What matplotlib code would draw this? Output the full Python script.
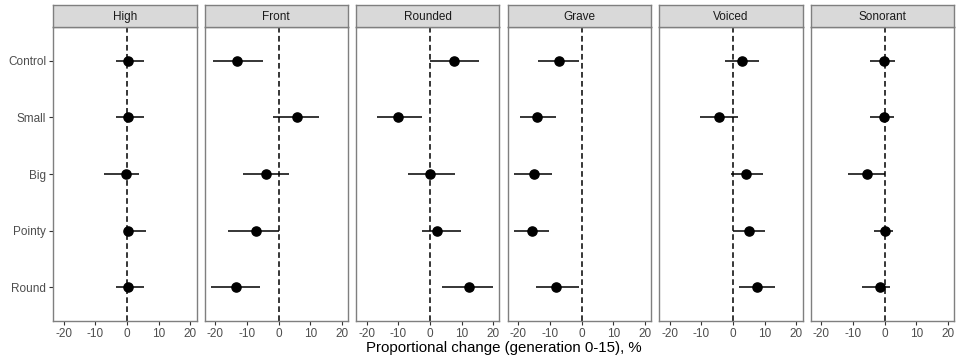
import matplotlib
matplotlib.use("Agg")
import matplotlib.pyplot as plt
import numpy as np

plt.rcParams['font.family'] = ['Liberation Sans', 'DejaVu Sans']

# conditions (rows) and features (facets)
conditions = ["Control", "Small", "Big", "Pointy", "Round"]
features = ["High", "Front", "Rounded", "Grave", "Voiced", "Sonorant"]

# estimate, lower and upper bound per feature, in the order of conditions
high_est = [0.3, 0.3, -0.3, 0.3, 0.3]
high_lo = [-3.6, -3.6, -7.3, -0.8, -3.6]
high_hi = [5.4, 5.3, 3.7, 5.9, 5.4]

front_est = [-13.1, 5.7, -3.9, -7.1, -13.6]
front_lo = [-20.7, -1.9, -11.4, -16.0, -21.5]
front_hi = [-5.0, 12.6, 3.2, 0.0, -6.0]

rounded_est = [7.5, -10.2, 0.0, 2.2, 12.3]
rounded_lo = [-0.1, -16.9, -7.0, -2.6, 3.7]
rounded_hi = [15.3, -2.7, 7.8, 9.6, 19.9]

grave_est = [-7.1, -14.0, -15.1, -15.7, -8.0]
grave_lo = [-13.8, -19.3, -21.5, -21.4, -14.3]
grave_hi = [-0.7, -8.2, -9.2, -10.4, -0.8]

voiced_est = [2.8, -4.4, 4.1, 4.9, 7.4]
voiced_lo = [-2.7, -10.3, -0.7, 0.0, 1.9]
voiced_hi = [8.1, 1.6, 9.3, 10.0, 13.1]

sonorant_est = [-0.2, -0.2, -5.6, 0.0, -1.4]
sonorant_lo = [-4.6, -4.6, -11.7, -3.4, -7.2]
sonorant_hi = [3.4, 3.0, 0.1, 2.6, 1.7]

est = [high_est, front_est, rounded_est, grave_est, voiced_est, sonorant_est]
lo = [high_lo, front_lo, rounded_lo, grave_lo, voiced_lo, sonorant_lo]
hi = [high_hi, front_hi, rounded_hi, grave_hi, voiced_hi, sonorant_hi]

xticks = [-20, -10, 0, 10, 20]

W, H = 960, 358
fig = plt.figure(figsize=(W / 100, H / 100), dpi=100)

left0, gap, pw = 53, 8, 143.5
ptop, pbot, strip_h = 27, 321, 21.7
border = '#7F7F7F'
txt = '#4D4D4D'

y = np.arange(len(conditions))

for i, feat in enumerate(features):
    x0 = left0 + i * (pw + gap)
    ax = fig.add_axes([x0 / W, (H - pbot) / H, pw / W, (pbot - ptop) / H])
    # strip on top
    sax = fig.add_axes([x0 / W, (H - ptop) / H, pw / W, strip_h / H])
    sax.set_facecolor('#D9D9D9')
    sax.set_xticks([])
    sax.set_yticks([])
    for s in sax.spines.values():
        s.set_color(border)
        s.set_linewidth(1.0)
    sax.text(0.5, 0.45, feat, ha='center', va='center', fontsize=8.5,
             color='#1A1A1A', transform=sax.transAxes)

    ax.axvline(0, color='black', lw=1.1, linestyle=(0, (3.7, 2.2)), zorder=1)
    e = np.array(est[i])
    l = np.array(lo[i])
    h = np.array(hi[i])
    ax.hlines(y, l, h, color='black', lw=1.1, zorder=2)
    ax.plot(e, y, 'o', color='black', ms=6.6, zorder=3)

    ax.set_xlim(-23.4, 21.9)
    ax.set_ylim(len(conditions) - 0.4, -0.6)
    ax.set_xticks(xticks)
    ax.set_xticklabels([str(t) for t in xticks])
    ax.set_yticks(y)
    if i == 0:
        ax.set_yticklabels(conditions)
    else:
        ax.tick_params(axis='y', left=False, labelleft=False)
    ax.tick_params(axis='both', length=3, width=0.8, color='#333333',
                   labelsize=8.5, labelcolor=txt, pad=2)
    for s in ax.spines.values():
        s.set_color(border)
        s.set_linewidth(1.0)

fig.text((left0 + (6 * pw + 5 * gap) / 2) / W, 1 - 348 / H,
         "Proportional change (generation 0-15), %",
         ha='center', va='center', fontsize=10.8, color='black')

fig.savefig("out.png", dpi=100)
